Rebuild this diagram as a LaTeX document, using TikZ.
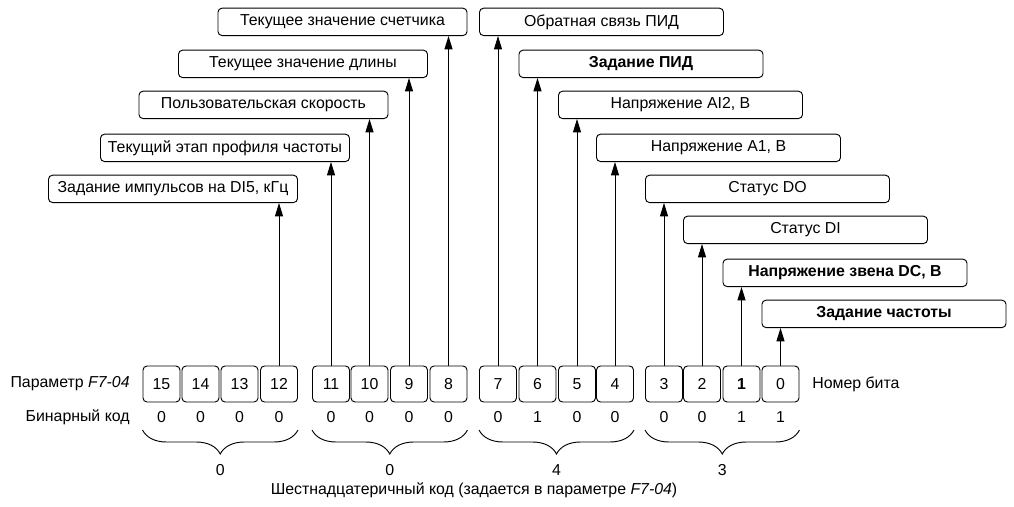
\documentclass[tikz,border=0pt]{standalone}
\usepackage{fontspec}
\setmainfont{Liberation Sans}
\usetikzlibrary{positioning,arrows.meta,decorations.pathreplacing}

\begin{document}
\begin{tikzpicture}[x=0.75pt,y=-0.75pt,font=\fontsize{11.9}{14}\selectfont,
  >={Triangle[length=10pt,width=6pt]},line width=0.7pt,
  bit/.style={draw,rounded corners=3pt,minimum width=27.75pt,minimum height=27pt,inner sep=0pt},
  lbl/.style={draw,rounded corners=3pt,minimum height=20.5pt,inner sep=2pt},
  lft/.style={lbl,minimum width=186.75pt,anchor=south east},
  rgt/.style={lbl,minimum width=183pt,anchor=south west},
  brc/.style={decorate,decoration={brace,mirror,amplitude=18pt}}]
  \useasboundingbox (0,0) rectangle (1014,507);
  % bits and binary code
  \foreach \b/\x/\v in {15/161.5/0,14/200.5/0,13/239.5/0,12/279/0,11/331/0,10/369.5/0,9/409/0,8/448.5/0,
    7/498/0,6/537.5/1,5/577/0,4/615/0,3/664/0,2/702/0,1/741.5/1,0/780.5/1}{
    \node[bit] (b\b) at (\x,384) {\ifnum\b=1 \bfseries\fi\b};
    \node (v\b) at (\x,417) {\v};
  }
  \node[left=6pt of b15] (par) {Параметр \textit{F7-04}};
  \node[anchor=east] (bin) at (par.east |- v15) {Бинарный код};
  \node[right=6pt of b0] (nb) {Номер бита};
  % parameters
  \node[lft] (l12) at (b12.east |- 0,203) {Задание импульсов на DI5, кГц};
  \node[lft] (l11) at (b11.east |- 0,162) {Текущий этап профиля частоты};
  \node[lft] (l10) at (b10.east |- 0,119) {Пользовательская скорость};
  \node[lft] (l9) at (b9.east |- 0,78) {Текущее значение длины};
  \node[lft] (l8) at (b8.east |- 0,36) {Текущее значение счетчика};
  \node[rgt] (l7) at (b7.west |- 0,36) {Обратная связь ПИД};
  \node[rgt] (l6) at (b6.west |- 0,78) {\textbf{Задание ПИД}};
  \node[rgt] (l5) at (b5.west |- 0,119) {Напряжение AI2, В};
  \node[rgt] (l4) at (b4.west |- 0,162) {Напряжение А1, В};
  \node[rgt] (l3) at (b3.west |- 0,203) {Статус DO};
  \node[rgt] (l2) at (b2.west |- 0,244) {Статус DI};
  \node[rgt] (l1) at (b1.west |- 0,287) {\textbf{Напряжение звена DC, В}};
  \node[rgt] (l0) at (b0.west |- 0,328) {\textbf{Задание частоты}};
  \foreach \b in {0,...,12}
    \draw[->] (b\b.north) -- (b\b.north |- l\b.south);
  % hex code
  \draw[brc] (b15.west |- 0,430) -- (b12.east |- 0,430) node[midway,yshift=-30pt] (h3) {0};
  \draw[brc] (b11.west |- 0,430) -- (b8.east |- 0,430) node[midway,yshift=-30pt] (h2) {0};
  \draw[brc] (b7.west |- 0,430) -- (b4.east |- 0,430) node[midway,yshift=-30pt] (h1) {4};
  \draw[brc] (b3.west |- 0,430) -- (b0.east |- 0,430) node[midway,yshift=-30pt] (h0) {3};
  \node (hex) at (474,490) {Шестнадцатеричный код (задается в параметре \textit{F7-04})};
\end{tikzpicture}
\end{document}
